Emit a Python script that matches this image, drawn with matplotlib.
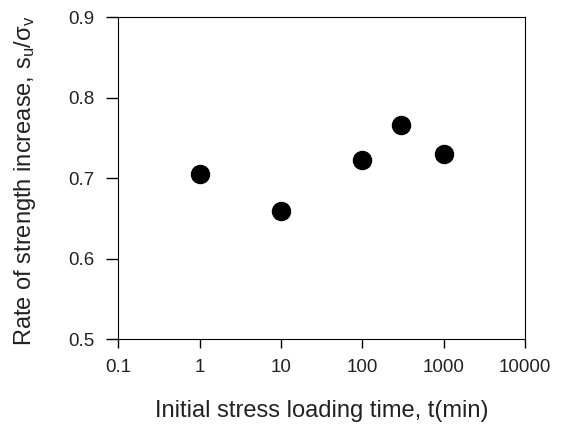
import matplotlib.pyplot as plt

plt.rcParams['font.family'] = ['Liberation Sans', 'DejaVu Sans']
plt.rcParams['mathtext.fontset'] = 'custom'
plt.rcParams['mathtext.rm'] = 'Liberation Sans'
plt.rcParams['mathtext.it'] = 'Liberation Sans'

t_min = [1, 10, 100, 300, 1000]
ratio = [0.705, 0.659, 0.723, 0.766, 0.730]
x_ticks = [0.1, 1, 10, 100, 1000, 10000]
x_labels = ["0.1", "1", "10", "100", "1000", "10000"]
y_ticks = [0.5, 0.6, 0.7, 0.8, 0.9]

fig = plt.figure(figsize=(5.61, 4.26), dpi=100)
ax = fig.add_axes([0.211, 0.204, 0.725, 0.756])

ax.plot(t_min, ratio, 'o', color='black', markersize=13, linestyle='none')

ax.set_xscale('log')
ax.set_xlim(0.1, 10000)
ax.set_ylim(0.5, 0.9)
ax.set_xticks(x_ticks)
ax.set_xticklabels(x_labels)
ax.minorticks_off()
ax.set_yticks(y_ticks)
ax.set_yticklabels(["%.1f" % v for v in y_ticks])
ax.tick_params(axis='x', direction='out', length=6.5, width=1, labelsize=13.5, pad=7.5, labelcolor='#222222')
ax.tick_params(axis='y', direction='out', length=8.6, width=1, labelsize=13.5, pad=8.5, labelcolor='#222222')

ax.set_xlabel("Initial stress loading time, t(min)", fontsize=17, color='#222222')
ax.set_ylabel(r"Rate of strength increase, s$_\mathrm{u}$/$\sigma_\mathrm{v}$", fontsize=17, color='#222222')
ax.xaxis.set_label_coords(0.5, -0.19)
ax.yaxis.set_label_coords(-0.197, 0.49)

fig.savefig("out.png", dpi=100)
